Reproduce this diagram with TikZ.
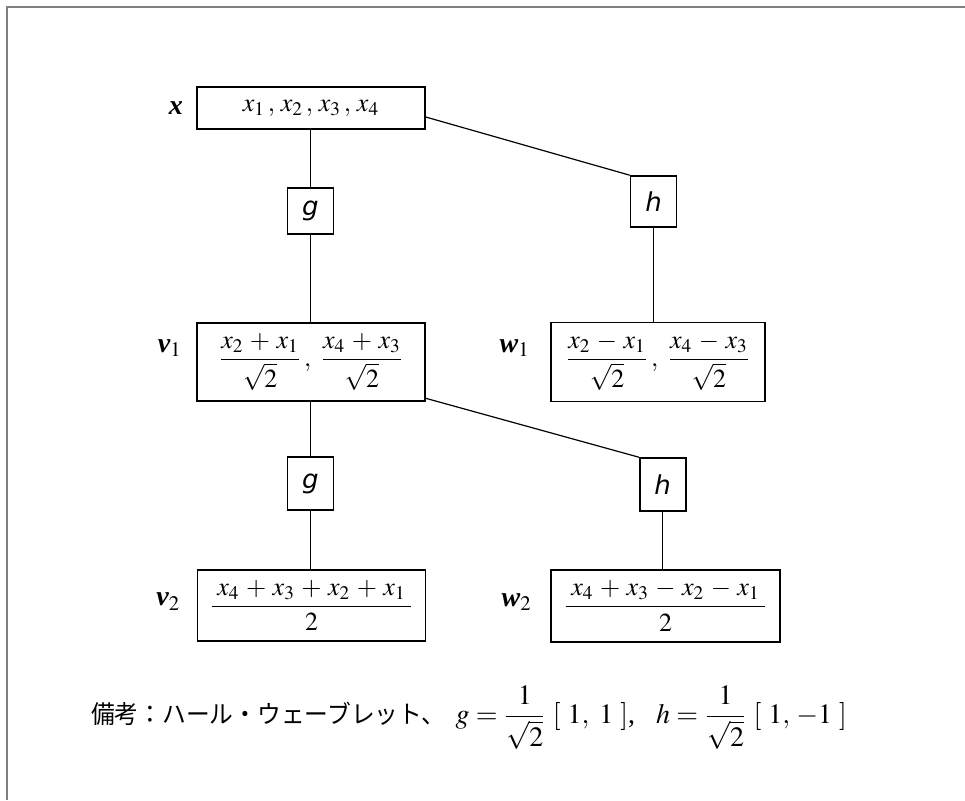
\documentclass[tikz,border=0pt]{standalone}
\usepackage{amsmath}
\usepackage{mathptmx}
\usepackage[no-math]{fontspec}
\setmainfont{Liberation Serif}
\newfontfamily\cjk{Noto Sans CJK JP}[FakeStretch=0.95]
\newfontfamily\opfont{DejaVu Sans}
\usetikzlibrary{positioning}

\begin{document}
\begin{tikzpicture}[
  x=0.5pt, y=-0.5pt,
  vecbox/.style={rectangle, draw=black, line width=0.8pt, minimum width=114pt, inner sep=2pt, font=\fontsize{13pt}{15pt}\selectfont},
  opbox/.style={rectangle, draw=black, line width=0.8pt, minimum width=23pt, minimum height=23pt, inner sep=0pt, font=\opfont\itshape\fontsize{13pt}{15pt}\selectfont},
  vlab/.style={inner sep=0pt, font=\fontsize{14pt}{16pt}\selectfont},
  link/.style={line width=0.6pt}
]
\useasboundingbox (0,0) rectangle (965,800);
\draw[gray, line width=0.8pt] (7,800) |- (965,7);

% input
\node (xbox) [vecbox, minimum height=21pt] at (311,108) {$x_1\,,\,x_2\,,\,x_3\,,\,x_4$};
\node (xlab) [vlab, left=6.5pt of xbox] {\textbf{\textit{x}}};

% first level
\node (g1) [opbox] at (310.5,211) {g};
\node (h1) [opbox, minimum height=25.5pt] at (653.5,201.5) {h};
\node (v1) [vecbox, minimum height=39pt] at (311,362) {$\dfrac{x_2\,+\,x_1}{\sqrt{2}}\,,\ \dfrac{x_4\,+\,x_3}{\sqrt{2}}$};
\node (w1) [vecbox, minimum width=107pt, minimum height=39.5pt] at (658,362) {$\dfrac{x_2\,-\,x_1}{\sqrt{2}}\,,\ \dfrac{x_4\,-\,x_3}{\sqrt{2}}$};
\node (v1lab) [vlab, left=7pt of v1, yshift=7pt] {\textbf{\textit{v}}$_1$};
\node (w1lab) [vlab, left=10pt of w1, yshift=7pt] {\textbf{\textit{w}}$_1$};

% second level
\node (g2) [opbox, minimum height=26.5pt] at (310.5,483.7) {g};
\node (h2) [opbox, minimum height=26.5pt] at (662.7,484.5) {h};
\node (v2) [vecbox, minimum height=35.5pt] at (311.5,605.5) {$\dfrac{\;x_4\,+\,x_3\,+\,x_2\,+\,x_1\;}{2}$};
\node (w2) [vecbox, minimum width=114.5pt, minimum height=36pt] at (665.5,606) {$\dfrac{\;x_4\,+\,x_3\,-\,x_2\,-\,x_1\;}{2}$};
\node (v2lab) [vlab, left=8pt of v2, yshift=2pt] {\textbf{\textit{v}}$_2$};
\node (w2lab) [vlab, left=9pt of w2, yshift=2pt] {\textbf{\textit{w}}$_2$};

% note
\node (note) at (469,718) {{\cjk\fontsize{12.5pt}{14pt}\selectfont 備考：ハール・ウェーブレット、}\ \ \fontsize{14pt}{16pt}\selectfont $g=\dfrac{\;1\;}{\sqrt{2}}\ [\ 1,\ 1\ ]$,\ \ \ $h=\dfrac{\;1\;}{\sqrt{2}}\ [\ 1,\,-1\ ]$};

\draw [link] (g1.north) -- (g1.north |- xbox.south);
\draw [link] (g1.south) -- (g1.south |- v1.north);
\draw [link] ([yshift=-4.5pt]xbox.east) -- (h1.north west);
\draw [link] (h1.south) -- (h1.south |- w1.north);
\draw [link] (g2.north) -- (g2.north |- v1.south);
\draw [link] (g2.south) -- (g2.south |- v2.north);
\draw [link] ([yshift=1.75pt]v1.south east) -- (h2.north west);
\draw [link] (h2.south) -- (h2.south |- w2.north);
\end{tikzpicture}
\end{document}
